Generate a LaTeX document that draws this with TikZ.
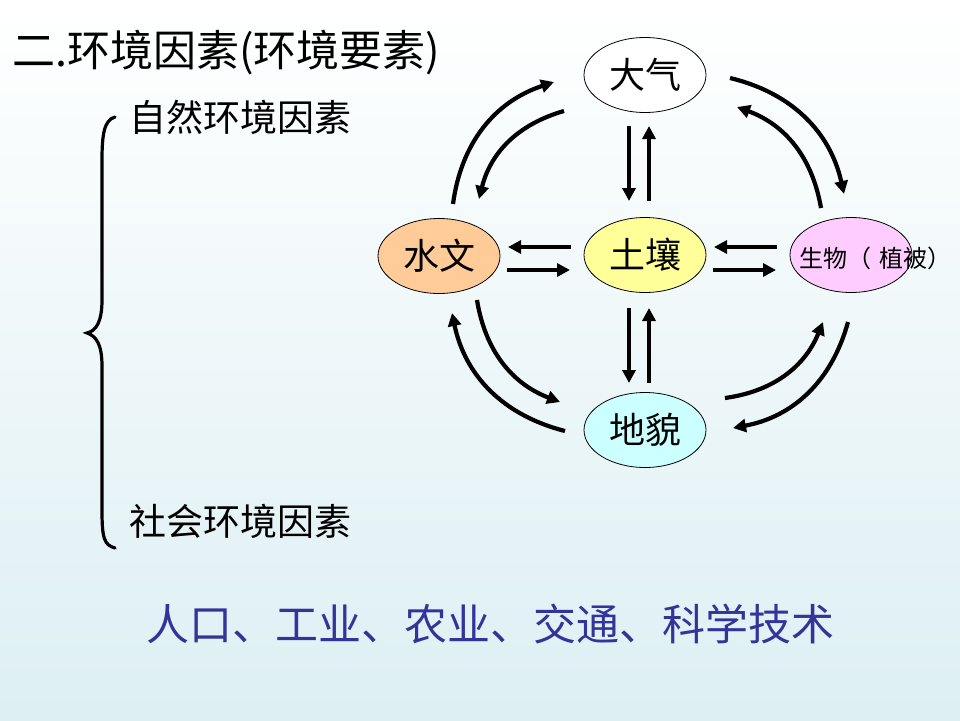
\documentclass[tikz,border=0pt]{standalone}
\usepackage{fontspec}
\setmainfont{Noto Sans CJK SC}
\usetikzlibrary{shapes.geometric,arrows.meta}
\definecolor{bgbottom}{RGB}{221,239,243}
\definecolor{bluetext}{RGB}{51,51,153}
\definecolor{hydro}{RGB}{255,204,153}
\definecolor{soil}{RGB}{255,255,153}
\definecolor{bio}{RGB}{255,204,255}
\definecolor{land}{RGB}{204,255,255}
\tikzset{
  elem/.style={ellipse, draw=black, line width=0.8pt, minimum width=122pt, minimum height=75pt, inner sep=0pt, font=\fontsize{36}{40}\selectfont},
  arr/.style={line width=4.2pt, -{Triangle[length=13pt,width=13pt]}},
  txt/.style={inner sep=0pt, anchor=west},
}
\begin{document}
\begin{tikzpicture}[x=1pt,y=-1pt]
\shade[top color=white, bottom color=bgbottom] (0,0) rectangle (960,720);
\useasboundingbox (0,0) rectangle (960,720);

% title and side texts
\node[txt, font=\fontsize{43}{46}\selectfont] (title) at (12,53) {二.环境因素(环境要素)};
\node[txt, font=\fontsize{37}{40}\selectfont] (nat) at (129,117) {自然环境因素};
\node[txt, font=\fontsize{37}{40}\selectfont] (soc) at (129,521) {社会环境因素};
\node[txt, font=\fontsize{43}{46}\selectfont, text=bluetext] (fac) at (146,624) {人口、工业、农业、交通、科学技术};

% brace
\draw[line width=3.2pt, line cap=round] (115,117) .. controls (104,120) and (102,135) .. (102,160) -- (102,300)
  .. controls (102,322) and (96,331) .. (87,333) .. controls (96,336) and (102,344) .. (102,366)
  -- (102,510) .. controls (102,538) and (104,545) .. (115,548);

% element nodes
\node[elem, fill=white] (air) at (645,75) {大气};
\node[elem, fill=hydro] (water) at (439,256) {水文};
\node[elem, fill=soil] (soilnode) at (645,255) {土壤};
\node[elem, fill=bio] (life) at (851,255) {};
\node[txt, font=\fontsize{24}{26}\selectfont] (lifetxt) at (799,258) {生物（\,\,植被）};
\node[elem, fill=land] (relief) at (645,430) {地貌};

% endpoints of straight arrows
\coordinate (v1a) at (629,126); \coordinate (v1b) at (629,201);
\coordinate (v2a) at (649,201); \coordinate (v2b) at (649,126);
\coordinate (v3a) at (629,308); \coordinate (v3b) at (629,383);
\coordinate (v4a) at (649,383); \coordinate (v4b) at (649,308);
\coordinate (h1a) at (571,247); \coordinate (h1b) at (508,247);
\coordinate (h2a) at (507,270); \coordinate (h2b) at (570,270);
\coordinate (h3a) at (777,247); \coordinate (h3b) at (714,247);
\coordinate (h4a) at (713,270); \coordinate (h4b) at (776,270);

\draw[arr] (v1a) -- (v1b);
\draw[arr] (v2a) -- (v2b);
\draw[arr] (v3a) -- (v3b);
\draw[arr] (v4a) -- (v4b);
\draw[arr] (h1a) -- (h1b);
\draw[arr] (h2a) -- (h2b);
\draw[arr] (h3a) -- (h3b);
\draw[arr] (h4a) -- (h4b);

% endpoints of curved arrows
\coordinate (c1a) at (453,204); \coordinate (c1b) at (554,82);
\coordinate (c2a) at (564,111); \coordinate (c2b) at (479,199);
\coordinate (c3a) at (730,78);  \coordinate (c3b) at (844,194);
\coordinate (c4a) at (821,208); \coordinate (c4b) at (737,107);
\coordinate (c5a) at (477,300); \coordinate (c5b) at (560,402);
\coordinate (c6a) at (565,431); \coordinate (c6b) at (452,313);
\coordinate (c7a) at (725,398); \coordinate (c7b) at (823,322);
\coordinate (c8a) at (848,322); \coordinate (c8b) at (733,428);

\draw[arr] (c1a) to[bend left=32] (c1b);
\draw[arr] (c2a) to[bend right=30] (c2b);
\draw[arr] (c3a) to[bend left=32] (c3b);
\draw[arr] (c4a) to[bend right=30] (c4b);
\draw[arr] (c5a) to[bend right=30] (c5b);
\draw[arr] (c6a) to[bend left=32] (c6b);
\draw[arr] (c7a) to[bend right=30] (c7b);
\draw[arr] (c8a) to[bend left=32] (c8b);
\end{tikzpicture}
\end{document}
